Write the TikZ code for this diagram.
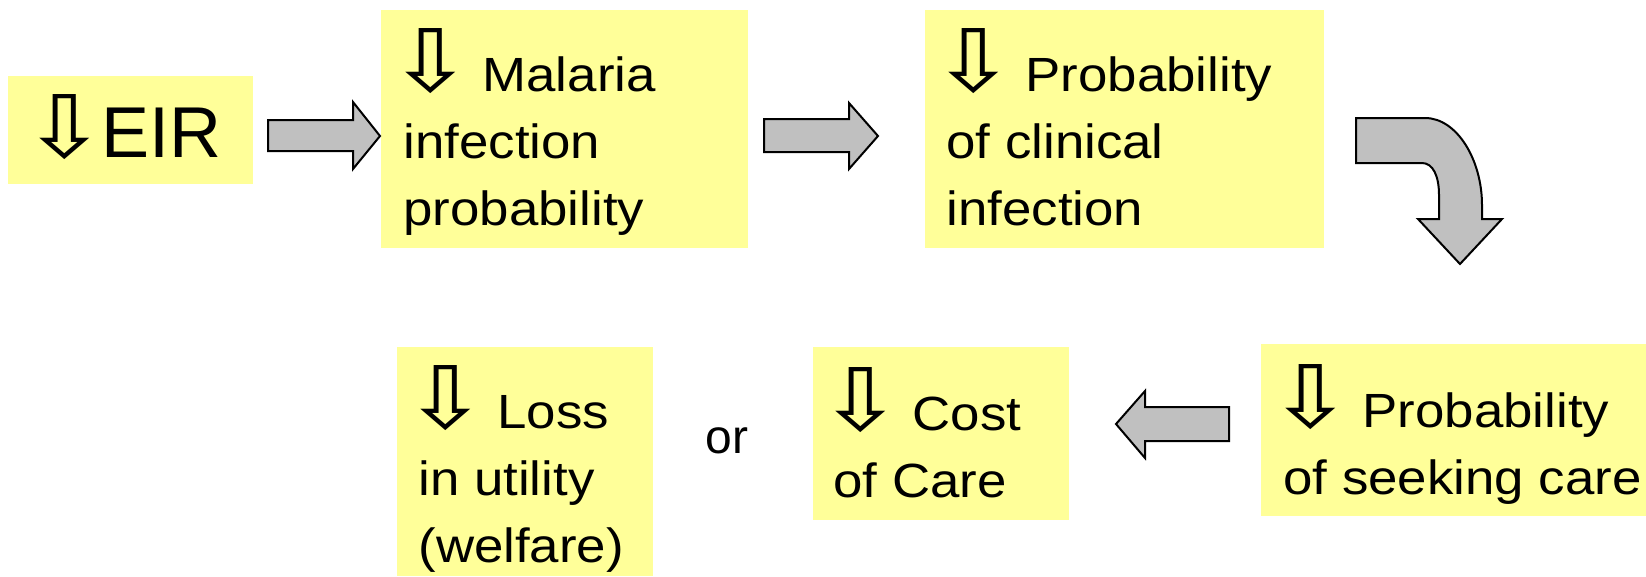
\documentclass[tikz,border=0pt]{standalone}
\usepackage{fontspec}
\usepackage{graphicx}
\setmainfont{Liberation Sans}
\newfontfamily\boxfont{Liberation Sans}[FakeStretch=1.1]
\newfontfamily\arrowfont{DejaVu Sans}
\usetikzlibrary{fit}

\definecolor{notey}{RGB}{255,255,153}
\definecolor{arrowgray}{RGB}{192,192,192}

\newcommand\dnarrow{\hspace*{-11pt}{\arrowfont\fontsize{36pt}{36pt}\selectfont\scalebox{2.1}[1.8]{⇩}}\hspace{-4pt}}

\tikzset{every picture/.style={line width=0.75pt}}
\tikzset{
  note/.style={draw=none, fill=notey, inner sep=0pt},
  notetext/.style={anchor=base west, align=left, inner sep=0pt,
    font=\boxfont\fontsize{36pt}{50pt}\selectfont},
  blockarrow/.style={draw=black, fill=arrowgray, line width=1.5pt, line join=miter}
}

\begin{document}
\begin{tikzpicture}[x=0.75pt,y=0.75pt,yscale=-1,xscale=1]
	\useasboundingbox (0,0) rectangle (1646,576);

	%Shape: Rectangle [EIR]
	\node [note, fit={(8,76) (253,184)}] (eir) {};
	%Shape: Rectangle [malaria infection]
	\node [note, fit={(381,10) (748,248)}] (malaria) {};
	%Shape: Rectangle [clinical infection]
	\node [note, fit={(925,10) (1324,248)}] (clinical) {};
	%Shape: Rectangle [seeking care]
	\node [note, fit={(1261,344) (1646,516)}] (seeking) {};
	%Shape: Rectangle [cost of care]
	\node [note, fit={(813,347) (1069,520)}] (cost) {};
	%Shape: Rectangle [loss in utility]
	\node [note, fit={(397,347) (653,576)}] (loss) {};

	%Right Arrow [EIR -> malaria]
	\draw [blockarrow] (268,120) -- (353,120) -- (353,102) -- (380,136) -- (353,169) -- (353,151) -- (268,151) -- cycle ;
	%Right Arrow [malaria -> clinical]
	\draw [blockarrow] (764,119) -- (849,119) -- (849,103) -- (878,136) -- (849,169) -- (849,152) -- (764,152) -- cycle ;
	%Bent Arrow [clinical -> seeking]
	\draw [blockarrow] (1356,118) -- (1425,118) .. controls (1457,118) and (1482,160) .. (1482,205) -- (1482,219) -- (1502,219) -- (1460,264) -- (1418,219) -- (1439,219) -- (1439,195) .. controls (1439,176) and (1433,163) .. (1422,163) -- (1356,163) -- cycle ;
	%Left Arrow [seeking -> cost]
	\draw [blockarrow] (1229,407) -- (1145,407) -- (1145,391) -- (1116,424) -- (1145,458) -- (1145,441) -- (1229,441) -- cycle ;

	% Text Node
	\node [anchor=base west, inner sep=0pt, font=\fontsize{54pt}{54pt}\selectfont] (eirtxt) at (37,157) {\dnarrow EIR};
	% Text Node
	\node [notetext] (malariatxt) at (403,225) {\dnarrow\ Malaria\\infection\\probability};
	% Text Node
	\node [notetext] (clinicaltxt) at (946,225) {\dnarrow\ Probability\\of clinical\\infection};
	% Text Node
	\node [notetext] (seekingtxt) at (1283,494) {\dnarrow\ Probability\\of seeking care};
	% Text Node
	\node [notetext] (costtxt) at (833,497) {\dnarrow\ Cost\\of Care};
	% Text Node
	\node [notetext] (losstxt) at (418,562) {\dnarrow\ Loss\\in utility\\(welfare)};
	% Text Node
	\node [anchor=base west, inner sep=0pt, font=\fontsize{36pt}{36pt}\selectfont] (ortxt) at (705,453) {or};

\end{tikzpicture}
\end{document}
